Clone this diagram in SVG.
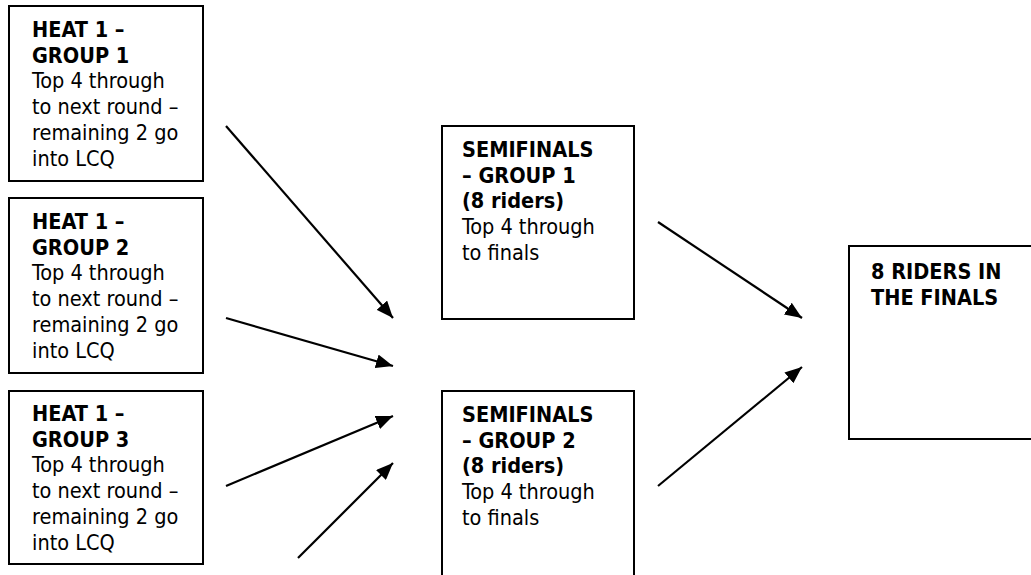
<svg xmlns="http://www.w3.org/2000/svg" width="1031" height="575" viewBox="0 0 1031 575">
<style>
.box{fill:#fff;stroke:#000;stroke-width:2}
text{font-family:"DejaVu Sans Condensed","DejaVu Sans",sans-serif;font-stretch:condensed;font-size:21.5px;fill:#000}
.b{font-weight:bold}
.conn line{stroke:#000;stroke-width:2.2;marker-end:url(#ah)}
</style>
<defs>
<marker id="ah" markerUnits="userSpaceOnUse" markerWidth="18" markerHeight="14" refX="17" refY="7" orient="auto">
<path d="M0,0 L17,7 L0,14 z" fill="#000"/>
</marker>
</defs>
<rect width="1031" height="575" fill="#fff"/>
<g id="heat1">
<rect class="box" x="9" y="6" width="194" height="175"/>
<text x="32" y="37"><tspan class="b">HEAT 1 –</tspan><tspan class="b" x="32" dy="25.7">GROUP 1</tspan><tspan x="32" dy="25.7">Top 4 through</tspan><tspan x="32" dy="25.7">to next round –</tspan><tspan x="32" dy="25.7">remaining 2 go</tspan><tspan x="32" dy="25.7">into LCQ</tspan></text>
</g>
<g id="heat2">
<rect class="box" x="9" y="198" width="194" height="175"/>
<text x="32" y="229"><tspan class="b">HEAT 1 –</tspan><tspan class="b" x="32" dy="25.7">GROUP 2</tspan><tspan x="32" dy="25.7">Top 4 through</tspan><tspan x="32" dy="25.7">to next round –</tspan><tspan x="32" dy="25.7">remaining 2 go</tspan><tspan x="32" dy="25.7">into LCQ</tspan></text>
</g>
<g id="heat3">
<rect class="box" x="9" y="391" width="194" height="173"/>
<text x="32" y="421"><tspan class="b">HEAT 1 –</tspan><tspan class="b" x="32" dy="25.7">GROUP 3</tspan><tspan x="32" dy="25.7">Top 4 through</tspan><tspan x="32" dy="25.7">to next round –</tspan><tspan x="32" dy="25.7">remaining 2 go</tspan><tspan x="32" dy="25.7">into LCQ</tspan></text>
</g>
<g id="semi1">
<rect class="box" x="442" y="126" width="192" height="193"/>
<text x="462" y="157"><tspan class="b">SEMIFINALS</tspan><tspan class="b" x="462" dy="25.7">– GROUP 1</tspan><tspan class="b" x="462" dy="25.7">(8 riders)</tspan><tspan x="462" dy="25.7">Top 4 through</tspan><tspan x="462" dy="25.7">to finals</tspan></text>
</g>
<g id="semi2">
<rect class="box" x="442" y="391" width="192" height="200"/>
<text x="462" y="422"><tspan class="b">SEMIFINALS</tspan><tspan class="b" x="462" dy="25.7">– GROUP 2</tspan><tspan class="b" x="462" dy="25.7">(8 riders)</tspan><tspan x="462" dy="25.7">Top 4 through</tspan><tspan x="462" dy="25.7">to finals</tspan></text>
</g>
<g id="finals">
<rect class="box" x="849" y="246" width="200" height="193"/>
<text x="871" y="279"><tspan class="b">8 RIDERS IN</tspan><tspan class="b" x="871" dy="25.7">THE FINALS</tspan></text>
</g>
<g id="connectors" class="conn">
<line x1="226" y1="126" x2="393" y2="318"/>
<line x1="226" y1="318" x2="393" y2="366"/>
<line x1="226" y1="486" x2="393" y2="416"/>
<line x1="298" y1="558" x2="393" y2="463"/>
<line x1="658" y1="222" x2="802" y2="318"/>
<line x1="658" y1="486" x2="802" y2="367"/>
</g>
</svg>
